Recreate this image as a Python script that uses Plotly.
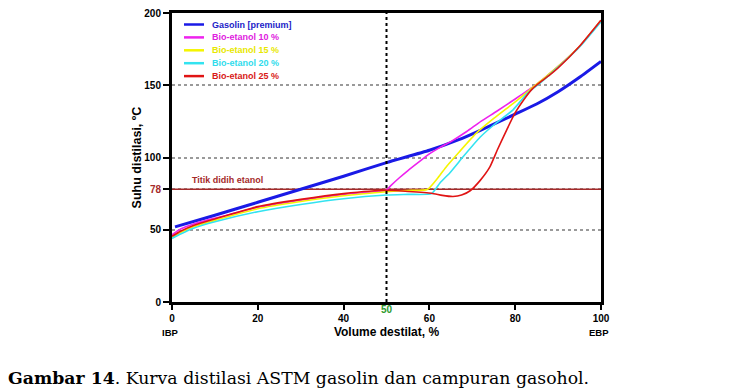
import plotly.graph_objects as go

# ---------------- data ----------------
series_names = ["Gasolin [premium]", "Bio-etanol 10 %", "Bio-etanol 15 %",
                "Bio-etanol 20 %", "Bio-etanol 25 %"]

vol_gasolin = [0.7, 10, 20, 30, 40, 50, 60, 67, 72, 80, 85, 90, 95, 100]
temp_gasolin = [52, 60, 69, 78, 87, 96.5, 105, 112.5, 119, 130, 137, 145.5, 155.5, 166.5]

vol_e10 = [0, 2, 5, 10, 20, 30, 40, 50, 51, 53, 55, 57.8, 60, 62.5, 65, 68.7, 72, 75.7, 80, 84.2, 87, 90, 95, 100]
temp_e10 = [46.5, 50.5, 54, 58, 65.5, 70.5, 74.5, 77.5, 80.5, 86, 91, 97.5, 102.5, 107, 111, 118, 125, 132, 140.5, 149, 155.5, 163, 177, 195]

vol_e15 = [0, 2, 5, 10, 20, 30, 40, 50, 55, 59.5, 62, 64, 67, 71, 75, 80, 84.5, 87, 90, 95, 100]
temp_e15 = [44.5, 48, 52, 56.5, 64.5, 69.5, 73.5, 76.3, 77.2, 77.8, 86, 93.8, 104, 117, 127, 138.5, 149.5, 155.5, 163, 177, 195]

vol_e20 = [0, 2, 5, 10, 20, 30, 40, 50, 55, 60.5, 62.5, 64.8, 68, 71.8, 75, 79.5, 82.7, 86, 90, 95, 100]
temp_e20 = [44, 47, 51, 55.5, 62.5, 67.5, 71.5, 74, 74.5, 75, 82.5, 89.5, 101, 114, 122.5, 133, 144, 152, 162.5, 176.5, 194]

vol_e25 = [0, 2, 5, 10, 20, 30, 40, 50, 55, 60.5, 63, 65.5, 67.5, 69.5, 71.8, 74.1, 75.8, 78, 80, 82, 84, 86, 88, 90, 95, 100]
temp_e25 = [45.5, 49, 53, 57.5, 66, 71, 75, 77.3, 76.5, 75.3, 73.8, 73, 74, 77, 84, 93.5, 105, 119, 131, 140, 147.5, 152.5, 157, 162, 177, 195]

series_x = [vol_gasolin, vol_e10, vol_e15, vol_e20, vol_e25]
series_y = [temp_gasolin, temp_e10, temp_e15, temp_e20, temp_e25]

boil_temp = 78            # ethanol boiling point
mid_volume = 50           # 50 % distilled marker
x_ticks = [0, 20, 40, 60, 80, 100]
y_ticks = [0, 50, 78, 100, 150, 200]

# ---------------- styles ----------------
colors = ["#1a1ae6", "#ee22ee", "#f5f500", "#33e3f0", "#e01414"]
text_colors = ["#2222c8", "#e020e0", "#e8e800", "#30dcec", "#d81818"]
widths = [3, 1.6, 1.6, 1.6, 1.6]
boil_color = "#a52a2a"
sans = "Liberation Sans"

# page body has an 8px default margin -> figure is 8px smaller and shifted
PAGE_OFF = 8
FIG_W, FIG_H = 738 - PAGE_OFF, 391 - PAGE_OFF

fig = go.Figure()

# ethanol boiling-point reference line
fig.add_trace(go.Scatter(x=[x_ticks[0], x_ticks[-1]], y=[boil_temp, boil_temp],
                         mode="lines", line=dict(color=boil_color, width=1.6),
                         showlegend=False, hoverinfo="skip"))

for name, xs, ys, c, w in zip(series_names, series_x, series_y, colors, widths):
    fig.add_trace(go.Scatter(x=xs, y=ys, mode="lines", name=name,
                             line=dict(color=c, width=w, shape="spline", smoothing=0.5),
                             showlegend=False))

# vertical dotted line at 50 %
fig.add_trace(go.Scatter(x=[mid_volume, mid_volume], y=[y_ticks[0], y_ticks[-1]],
                         mode="lines", line=dict(color="black", width=2, dash="dot"),
                         showlegend=False, hoverinfo="skip"))

# ---------------- manual legend (compact spacing) ----------------
shapes = []
annotations = []
for i, (name, c, tc, w) in enumerate(zip(series_names, colors, text_colors, widths)):
    dy = -(11.5 + 12.9 * i)
    shapes.append(dict(type="line", xref="paper", xsizemode="pixel", xanchor=0,
                       x0=12, x1=32, yref="paper", ysizemode="pixel", yanchor=1,
                       y0=dy, y1=dy, line=dict(color=c, width=2.5)))
    annotations.append(dict(text=name, xref="paper", x=0, xshift=38, xanchor="left",
                            yref="paper", y=1, yshift=dy, yanchor="middle",
                            showarrow=False,
                            font=dict(family=sans, size=9, color=tc, weight="bold")))

annotations += [
    dict(text="Titik didih etanol", xref="x", x=4.3, xanchor="left",
         yref="y", y=boil_temp, yanchor="bottom", yshift=2, showarrow=False,
         font=dict(family=sans, size=9, color=boil_color, weight="bold")),
    dict(text="50", xref="x", x=mid_volume, yref="paper", y=0, yanchor="middle",
         yshift=-7, showarrow=False,
         font=dict(family=sans, size=10, color="#2e9a2e", weight="bold")),
    dict(text="IBP", xref="x", x=x_ticks[0], xshift=-2, yref="paper", y=0,
         yanchor="middle", yshift=-30, showarrow=False,
         font=dict(family=sans, size=9.5, color="black", weight="bold")),
    dict(text="EBP", xref="x", x=x_ticks[-1], xshift=-2, yref="paper", y=0,
         yanchor="middle", yshift=-30, showarrow=False,
         font=dict(family=sans, size=9.5, color="black", weight="bold")),
]

y_ticktext = [f"<span style='color:{boil_color}'>{v}</span>" if v == boil_temp else str(v)
              for v in y_ticks]

fig.update_layout(
    width=FIG_W, height=FIG_H,
    margin=dict(l=172 - PAGE_OFF, r=137, t=13 - PAGE_OFF, b=89, autoexpand=False),
    paper_bgcolor="white", plot_bgcolor="white",
    font=dict(family=sans, color="black"),
    shapes=shapes, annotations=annotations,
    title=dict(text="<b>Gambar 14</b>. Kurva distilasi ASTM gasolin dan campuran gasohol.",
               x=(7 - PAGE_OFF + 1) / FIG_W, xanchor="left", xref="container",
               y=1 - (378 - PAGE_OFF) / FIG_H, yanchor="middle", yref="container",
               font=dict(family="DejaVu Serif", size=17.3, color="black")),
    xaxis=dict(range=[x_ticks[0], x_ticks[-1]], tickvals=x_ticks,
               showline=True, linecolor="black", linewidth=3, mirror=True,
               ticks="outside", ticklen=5, tickwidth=2, tickcolor="black",
               showgrid=False, zeroline=False, automargin=False,
               ticklabeloverflow="allow",
               tickfont=dict(family=sans, size=10, color="black", weight="bold"),
               title=dict(text="Volume destilat, %", standoff=5,
                          font=dict(family=sans, size=12, color="black", weight="bold"))),
    yaxis=dict(range=[y_ticks[0], y_ticks[-1]], tickvals=y_ticks, ticktext=y_ticktext,
               showline=True, linecolor="black", linewidth=3, mirror=True,
               ticks="outside", ticklen=6, tickwidth=2, tickcolor="black",
               showgrid=True, gridcolor="#9a9a9a", gridwidth=1.5, griddash="dot",
               zeroline=False, automargin=False,
               ticklabeloverflow="allow",
               tickfont=dict(family=sans, size=10, color="black", weight="bold"),
               title=dict(text="Suhu distilasi, ºC", standoff=0,
                          font=dict(family=sans, size=12.5, color="black", weight="bold"))),
)

fig.write_html("out.html")
